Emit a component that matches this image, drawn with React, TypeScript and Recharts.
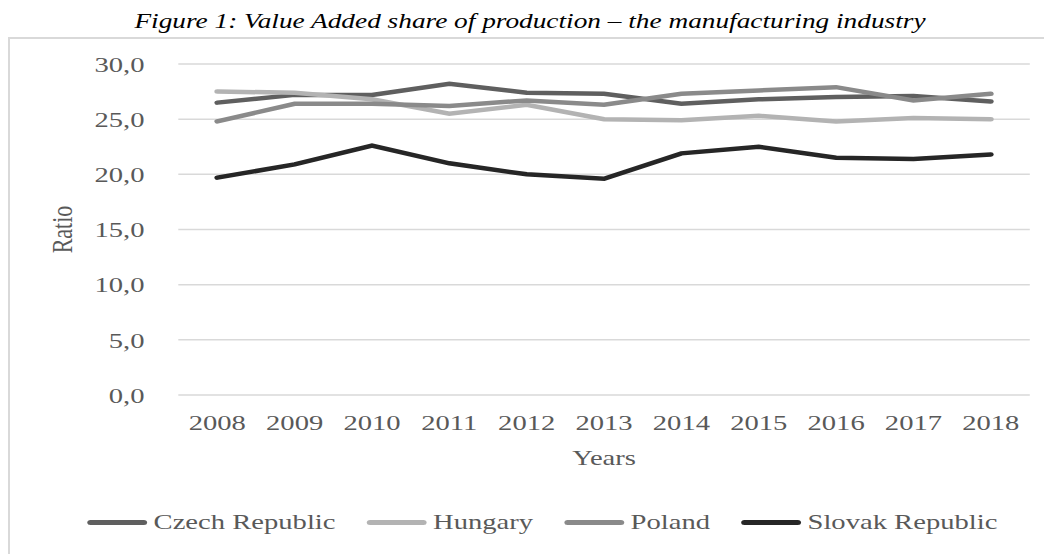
import React from "react";
import {
  CartesianGrid,
  Legend,
  Line,
  LineChart,
  XAxis,
  YAxis,
} from "recharts";

const years = ["2008", "2009", "2010", "2011", "2012", "2013", "2014", "2015", "2016", "2017", "2018"];
const czechRepublic = [26.5, 27.2, 27.2, 28.2, 27.4, 27.3, 26.4, 26.8, 27.0, 27.1, 26.6];
const hungary = [27.5, 27.4, 26.8, 25.5, 26.3, 25.0, 24.9, 25.3, 24.8, 25.1, 25.0];
const poland = [24.8, 26.4, 26.4, 26.2, 26.7, 26.3, 27.3, 27.6, 27.9, 26.7, 27.3];
const slovakRepublic = [19.7, 20.9, 22.6, 21.0, 20.0, 19.6, 21.9, 22.5, 21.5, 21.4, 21.8];
const yTicks = [0, 5, 10, 15, 20, 25, 30];

const data = years.map((year, i) => ({
  year,
  czech: czechRepublic[i],
  hungary: hungary[i],
  poland: poland[i],
  slovak: slovakRepublic[i],
}));

const series = [
  { key: "czech", name: "Czech Republic", color: "#5f5f5f" },
  { key: "hungary", name: "Hungary", color: "#b3b3b3" },
  { key: "poland", name: "Poland", color: "#8a8a8a" },
  { key: "slovak", name: "Slovak Republic", color: "#262626" },
];

const FONT = '"Liberation Serif", "Times New Roman", serif';
const TEXT = "#595959";
// the reference figure is stretched sideways, so draw narrow and scale up
const STRETCH = 1.3;

function LegendRow({ payload }: any) {
  return (
    <div style={{ display: "flex", alignItems: "center", height: 30, fontFamily: FONT }}>
      {(payload || []).map((p: any) => (
        <div key={p.value} style={{ display: "flex", alignItems: "center", marginRight: 24 }}>
          <span
            style={{
              display: "inline-block",
              width: 46,
              height: 5,
              borderRadius: 3,
              background: p.color,
            }}
          />
          <span style={{ marginLeft: 5, fontSize: 22, color: TEXT }}>{p.value}</span>
        </div>
      ))}
    </div>
  );
}

export default function App() {
  const innerWidth = 803;
  return (
    <div style={{ position: "relative", width: 1044, height: 546, overflow: "hidden" }}>
      <div
        style={{
          position: "absolute",
          left: 0,
          top: 29,
          width: 1080,
          height: 600,
          border: "2px solid #d9d9d9",
          boxSizing: "border-box",
        }}
      />
      <div
        style={{
          position: "absolute",
          left: 0,
          top: 0,
          width: innerWidth,
          transform: `scaleX(${STRETCH})`,
          transformOrigin: "0 0",
        }}
      >
        <div
          style={{
            position: "absolute",
            top: 2,
            left: 0,
            width: innerWidth,
            textAlign: "center",
            fontFamily: FONT,
            fontStyle: "italic",
            fontSize: 21,
            lineHeight: "22px",
            color: "#000",
          }}
        >
          Figure 1: Value Added share of production – the manufacturing industry
        </div>
        <LineChart
          width={innerWidth}
          height={546}
          data={data}
          margin={{ top: 56, right: 17, bottom: 17, left: 61 }}
          style={{ fontFamily: FONT }}
        >
          <CartesianGrid stroke="#d9d9d9" strokeWidth={1.5} vertical={false} />
          <XAxis
            dataKey="year"
            height={112}
            axisLine={false}
            tickLine={false}
            tickSize={0}
            tickMargin={19}
            padding={{ left: 30, right: 30 }}
            interval={0}
            tick={{ fill: TEXT, fontSize: 22, fontFamily: FONT }}
            label={{
              value: "Years",
              position: "insideTop",
              offset: 54,
              fill: TEXT,
              fontSize: 22,
              fontFamily: FONT,
            }}
          />
          <YAxis
            width={70}
            domain={[0, 30]}
            ticks={yTicks}
            axisLine={false}
            tickLine={false}
            tickSize={0}
            tickMargin={26}
            tickFormatter={(v: number) => v.toFixed(1).replace(".", ",")}
            tick={{ fill: TEXT, fontSize: 22, fontFamily: FONT }}
            label={{
              value: "Ratio",
              angle: -90,
              position: "insideLeft",
              offset: -19.5,
              fill: TEXT,
              fontSize: 22,
              fontFamily: FONT,
              style: { textAnchor: "middle" },
            }}
          />
          <Legend
            verticalAlign="bottom"
            align="left"
            content={<LegendRow />}
            wrapperStyle={{ left: 61, width: 740 }}
          />
          {series.map((s) => (
            <Line
              key={s.key}
              type="linear"
              dataKey={s.key}
              name={s.name}
              stroke={s.color}
              strokeWidth={4.5}
              strokeLinecap="round"
              dot={false}
              activeDot={false}
              isAnimationActive={false}
            />
          ))}
        </LineChart>
      </div>
    </div>
  );
}
